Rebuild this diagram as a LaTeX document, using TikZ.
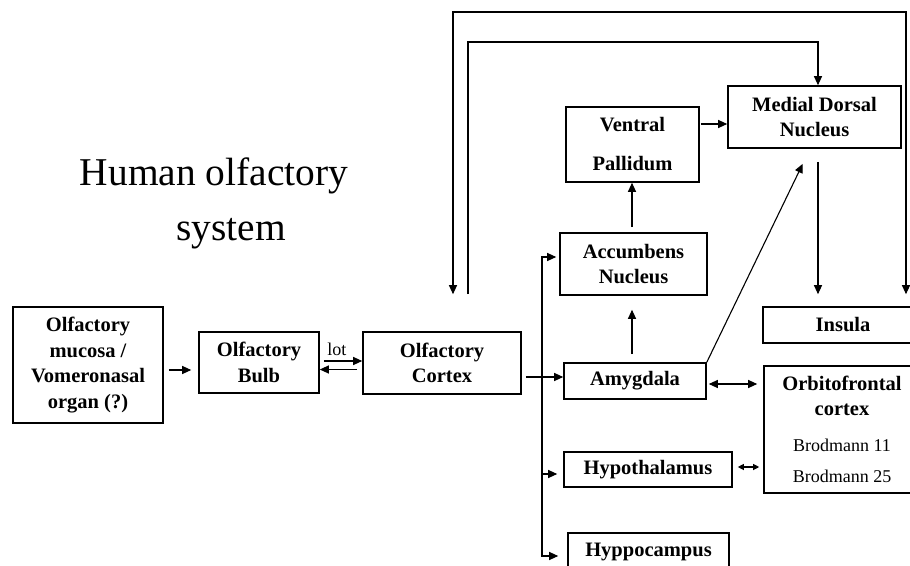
\documentclass[tikz,border=0pt]{standalone}
\usepackage{fontspec}
\setmainfont{Liberation Serif}
\usetikzlibrary{arrows.meta}
\usetikzlibrary{calc}

\begin{document}
\begin{tikzpicture}[
    x=1pt, y=-1pt,
    line join=miter,
    box/.style={
        draw,
        line width=1.6pt,
        inner sep=0pt,
        align=center,
        font=\bfseries\fontsize{20.5}{25.5}\selectfont
    },
    conn/.style={
        line width=1.1pt,
        -{Triangle[length=9pt,width=8pt]}
    },
    twoway/.style={
        line width=1.1pt,
        {Triangle[length=9pt,width=8pt]}-{Triangle[length=9pt,width=8pt]}
    }
]

    \useasboundingbox (0,0) rectangle (910,565);
    \clip (0,0) rectangle (910,565);

    % Title
    \node[anchor=base, font=\fontsize{39.4}{55}\selectfont] (title1) at (214,185) {Human olfactory};
    \node[anchor=base, font=\fontsize{39.4}{55}\selectfont] (title2) at (231,240) {system};

    % Boxes
    \node[box, minimum width=150pt, minimum height=116pt] (mucosa) at (88,365) {Olfactory\\mucosa /\\Vomeronasal\\organ (?)};
    \node[box, minimum width=120pt, minimum height=61pt] (bulb) at (259,362.5) {Olfactory\\Bulb};
    \node[box, minimum width=158pt, minimum height=62pt] (cortex) at (442,363) {Olfactory\\Cortex};
    \node[box, minimum width=133pt, minimum height=75pt] (pallidum) at (632.5,144.5) {Ventral\\[13.5pt]Pallidum};
    \node[box, minimum width=173pt, minimum height=62pt] (dorsal) at (814.5,117) {Medial Dorsal\\Nucleus};
    \node[box, minimum width=147pt, minimum height=62pt] (accumbens) at (633.5,264) {Accumbens\\Nucleus};
    \node[box, minimum width=160pt, minimum height=36pt] (insula) at (843,325) {Insula};
    \node[box, minimum width=142pt, minimum height=36pt] (amygdala) at (635,381) {Amygdala};
    \node[box, minimum width=156pt, minimum height=127pt] (orbito) at (842,429.5)
        {Orbitofrontal\\cortex\\[10.5pt]\fontsize{18}{18}\mdseries Brodmann 11\\[5.5pt]\fontsize{18}{18}\mdseries Brodmann 25};
    \node[box, minimum width=168pt, minimum height=35pt] (hypo) at (648,469.5) {Hypothalamus};
    \node[box, minimum width=161pt, minimum height=38pt] (hippo) at (648.5,552) {Hyppocampus};

    \coordinate (loopA) at (0,42);
    \coordinate (loopB) at (0,12);
    \coordinate (split) at (542,377);

    % Connectors
    \draw[conn, shorten <=5pt, shorten >=7pt] ([yshift=-5pt]mucosa.east) -- ([yshift=-5pt]mucosa.east -| bulb.west);
    \draw[conn, shorten <=4pt] ([yshift=1.5pt]bulb.east) -- ([yshift=1.5pt]bulb.east -| cortex.west)
        node[pos=0.4, above=1pt, font=\fontsize{18}{18}\selectfont] (lot) {lot};
    \draw[conn, shorten <=5pt] ([yshift=-6.5pt]cortex.west) -- ([yshift=-6.5pt]cortex.west -| bulb.east);
    \draw[conn, shorten <=4pt] ([yshift=-14pt]cortex.east) -- ([yshift=-14pt]cortex.east -| amygdala.west);

    \foreach \target/\dy/\gap in {accumbens/7/3, hypo/-4.5/6, hippo/-4/9}
        \draw[conn, shorten >=\gap pt] (split) |- ([yshift=\dy pt]\target.west);

    \draw[conn, shorten <=5pt] ([xshift=-1.5pt]accumbens.north) -- ([xshift=-1.5pt]accumbens.north |- pallidum.south);
    \draw[conn, shorten <=8pt, shorten >=14pt] ([xshift=-3pt]amygdala.north) -- ([xshift=-3pt]amygdala.north |- accumbens.south);
    \draw[conn, shorten <=1pt] ([yshift=20.5pt]pallidum.east) -- ([yshift=20.5pt]pallidum.east -| dorsal.west);
    \draw[conn, shorten >=16.7pt] (amygdala.north east) -- ([xshift=-4.5pt]dorsal.south);
    \draw[conn, shorten <=13pt, shorten >=12pt] ([xshift=3.5pt]dorsal.south) -- ([xshift=3.5pt]dorsal.south |- insula.north);

    % Loops over the top
    \draw[conn, shorten <=37pt] ([xshift=26pt]cortex.north) -- ([xshift=26pt]cortex.north |- loopA) -| ([xshift=3.5pt]dorsal.north);
    \draw[twoway, shorten <=37pt, shorten >=12pt] ([xshift=11pt]cortex.north) -- ([xshift=11pt]cortex.north |- loopB) -| ([xshift=63pt]insula.north);

    % To orbitofrontal cortex
    \draw[twoway, shorten <=2pt, shorten >=6pt] ([yshift=-3pt]amygdala.east) -- ([yshift=-3pt]amygdala.east -| orbito.west);
    \draw[twoway, {Triangle[length=6pt,width=6pt]}-{Triangle[length=6pt,width=6pt]}, shorten <=5pt, shorten >=4pt]
        ([yshift=2.5pt]hypo.east) -- ([yshift=2.5pt]hypo.east -| orbito.west);

\end{tikzpicture}
\end{document}
